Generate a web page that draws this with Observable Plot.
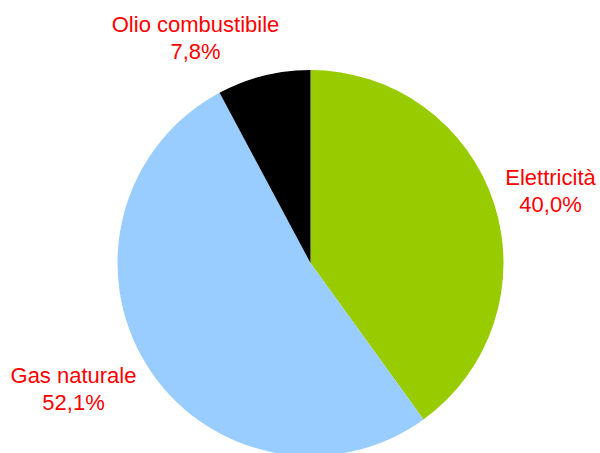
<!DOCTYPE html>
<html>
<head>
<meta charset="utf-8">
<script src="https://cdn.jsdelivr.net/npm/d3@7"></script>
<script src="https://cdn.jsdelivr.net/npm/@observablehq/plot@0.6"></script>
<style>
  html, body { margin: 0; padding: 0; background: #fff; }
  #chart { width: 600px; height: 453px; overflow: hidden; }
</style>
</head>
<body>
<div id="chart"></div>
<script>
// Data
const categories = ["Elettricità", "Gas naturale", "Olio combustibile"];
const shares = [40.0, 52.1, 7.8];
const sliceColors = ["#99CC00", "#99CCFF", "#000000"];

// Layout (pixel coordinates in the chart's frame)
const pieCenter = [310.5, 263];
const pieRadius = 193;
const labelX = [550, 73, 195];
const labelY = [211, 409, 58]; // baseline of last line

const fmt = v => v.toFixed(1).replace(".", ",") + "%";
const rows = categories.map((c, i) => ({
  category: c,
  share: shares[i],
  color: sliceColors[i],
  label: c + "\n" + fmt(shares[i]),
  lx: labelX[i],
  ly: labelY[i]
}));

function pieMark(index, scales, values, dimensions) {
  const cx = scales.x(pieCenter[0]);
  const cy = scales.y(pieCenter[1]);
  const r = scales.x(pieCenter[0] + pieRadius) - cx;
  const arcs = d3.pie().sort(null).value(d => d.share)(rows);
  const arc = d3.arc().innerRadius(0).outerRadius(r);
  const g = d3.create("svg:g").attr("transform", `translate(${cx},${cy})`);
  g.selectAll("path")
    .data(arcs)
    .join("path")
    .attr("d", arc)
    .attr("fill", d => d.data.color);
  return g.node();
}

const chart = Plot.plot({
  width: 600,
  height: 453,
  margin: 0,
  x: {domain: [0, 600], range: [0, 600], axis: null},
  y: {domain: [0, 453], range: [0, 453], axis: null},
  style: {fontFamily: "'Liberation Sans', Arial, sans-serif", background: "#fff"},
  marks: [
    pieMark,
    Plot.text(rows, {
      x: "lx",
      y: "ly",
      text: "label",
      fill: "#FF0000",
      fontSize: 22,
      lineAnchor: "bottom",
      lineHeight: 1.19,
      textAnchor: "middle"
    })
  ]
});
document.getElementById("chart").appendChild(chart);
</script>
</body>
</html>
